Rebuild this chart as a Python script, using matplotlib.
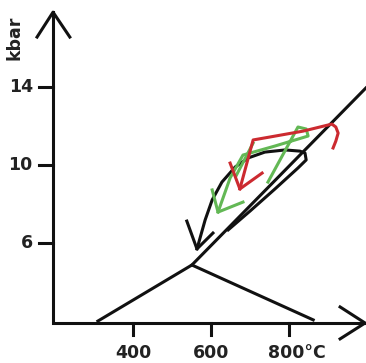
import matplotlib
matplotlib.use("Agg")
import matplotlib.pyplot as plt

# ------------------------------------------------------------
# Dados (T em °C, P em kbar)
# ------------------------------------------------------------
y_ticks = [6, 10, 14]
y_labels = ["6", "10", "14"]
x_ticks = [400, 600, 800]
x_labels = ["400", "600", "800°C"]

# triângulo + reta diagonal
tri_T = [310, 551, 862]
tri_P = [2.04, 4.90, 2.10]
diag_T = [551, 997]
diag_P = [4.90, 13.93]

# laço preto (trajetória P-T)
preto_T = [644, 700, 764, 823, 844, 841, 828, 790, 738, 695, 662, 628, 603, 585, 564]
preto_P = [6.69, 7.65, 8.78, 9.85, 10.26, 10.61, 10.71, 10.77, 10.66, 10.36, 9.90, 9.13, 8.22, 7.20, 5.72]
preto_seta_T = [538, 564, 605]
preto_seta_P = [7.14, 5.72, 6.53]

# trajetória vermelha
verm_T = [913, 920, 926, 920, 910, 836, 751, 708, 674]
verm_P = [10.87, 11.22, 11.63, 11.94, 12.09, 11.73, 11.43, 11.28, 8.78]
verm_seta_T = [649, 674, 731]
verm_seta_P = [10.10, 8.78, 9.59]

# trajetória verde
verde_T = [746, 823, 844, 849, 764, 682, 649, 618]
verde_P = [9.13, 11.94, 11.84, 11.48, 10.97, 10.51, 9.34, 7.60]
verde_seta_T = [603, 618, 682]
verde_seta_P = [8.73, 7.60, 8.11]
verde_extra_T = [708, 664]
verde_extra_P = [11.12, 9.44]

# ------------------------------------------------------------
# Plot
# ------------------------------------------------------------
T0, P0 = 195, 1.94      # origem dos eixos
T_max, P_max = 995, 17.8

fig = plt.figure(figsize=(3.66, 3.63), dpi=100)
ax = fig.add_axes([0, 0, 1, 1])
ax.set_xlim(59, 997.4)
ax.set_ylim(-0.1, 18.42)
ax.axis("off")

lw = 2.2
preto = "#111111"
vermelho = "#cc2a30"
verde = "#63b855"
fonte = dict(family="DejaVu Sans", weight="bold", size=12.5, color="#222222")

# eixos com setas
ax.plot([T0, T0, T_max], [P_max, P0, P0], color=preto, lw=lw, solid_joinstyle="miter")
ax.plot([154, T0, 238], [16.53, P_max, 16.53], color=preto, lw=lw)
ax.plot([931, T_max, 931], [2.76, P0, 1.13], color=preto, lw=lw)

for p, lab in zip(y_ticks, y_labels):
    ax.plot([159, T0], [p, p], color=preto, lw=lw)
    ax.text(143, p, lab, ha="right", va="center", **fonte)

for t, lab in zip(x_ticks, x_labels):
    ax.plot([t, t], [P0, 1.33], color=preto, lw=lw)
    if lab.endswith("°C"):
        ax.text(t - 53, 0.41, lab, ha="left", va="center", **fonte)
    else:
        ax.text(t, 0.41, lab, ha="center", va="center", **fonte)

ax.text(97, 16.5, "kbar", rotation=90, ha="center", va="center", **fonte)

# triângulo e diagonal
ax.plot(tri_T, tri_P, color=preto, lw=lw)
ax.plot(diag_T, diag_P, color=preto, lw=lw)

# trajetórias
ax.plot(preto_T, preto_P, color=preto, lw=lw)
ax.plot(preto_seta_T, preto_seta_P, color=preto, lw=lw)
ax.plot(verde_T, verde_P, color=verde, lw=lw)
ax.plot(verde_seta_T, verde_seta_P, color=verde, lw=lw)
ax.plot(verde_extra_T, verde_extra_P, color=verde, lw=lw)
ax.plot(verm_T, verm_P, color=vermelho, lw=lw)
ax.plot(verm_seta_T, verm_seta_P, color=vermelho, lw=lw)

fig.savefig("out.png", dpi=100)
